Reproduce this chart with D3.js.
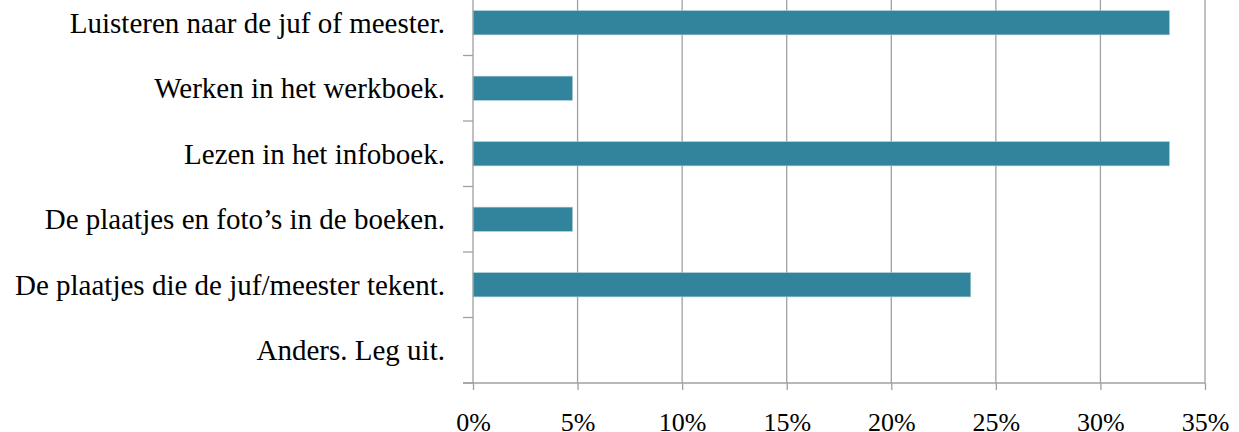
<!DOCTYPE html>
<html>
<head>
<meta charset="utf-8">
<script src="https://cdn.jsdelivr.net/npm/d3@7"></script>
<style>
  body { margin: 0; background: #fff; }
  text { font-family: "Liberation Serif", "Times New Roman", serif; fill: #000; }
</style>
</head>
<body>
<svg width="1239" height="432"></svg>
<script>
var categories = [
  "Luisteren naar de juf of meester.",
  "Werken in het werkboek.",
  "Lezen in het infoboek.",
  "De plaatjes en foto\u2019s in de boeken.",
  "De plaatjes die de juf/meester tekent.",
  "Anders. Leg uit."
];
var values = [0.333, 0.0476, 0.333, 0.0476, 0.238, 0];
var xTicks = [0, 0.05, 0.10, 0.15, 0.20, 0.25, 0.30, 0.35];

var svg = d3.select("svg"),
    plotLeft = 473, plotRight = 1205, plotTop = -10, plotBottom = 383;

var data = categories.map(function(c, i) { return {cat: c, value: values[i]}; });

var x = d3.scaleLinear().domain([0, 0.35]).range([plotLeft, plotRight]);
var y = d3.scaleBand().domain(categories).range([plotTop, plotBottom])
    .paddingInner(0.63).paddingOuter(0.315);
var step = y.step();

// gridlines
svg.append("g").selectAll("line")
  .data(xTicks.slice(1))
  .enter().append("line")
    .attr("x1", function(d) { return x(d); })
    .attr("x2", function(d) { return x(d); })
    .attr("y1", plotTop)
    .attr("y2", plotBottom)
    .attr("stroke", "#a0a0a0")
    .attr("stroke-width", 1.3);

// bars
svg.append("g").selectAll("rect")
  .data(data)
  .enter().append("rect")
    .attr("x", x(0))
    .attr("y", function(d) { return y(d.cat); })
    .attr("width", function(d) { return x(d.value) - x(0); })
    .attr("height", y.bandwidth())
    .attr("fill", "#31849b")
    .attr("stroke", "#a9cdd7")
    .attr("stroke-width", 0.6);

// x axis
var xAxis = svg.append("g")
    .attr("transform", "translate(0," + plotBottom + ")")
    .call(d3.axisBottom(x).tickValues(xTicks).tickSizeInner(7).tickSizeOuter(0)
      .tickFormat(d3.format(".0%")));
xAxis.select(".domain").attr("stroke", "#a0a0a0").attr("stroke-width", 1.3)
  .attr("d", "M" + (plotLeft - 10) + ",0H" + plotRight);
xAxis.selectAll(".tick line").attr("stroke", "#a0a0a0").attr("stroke-width", 1.3);
xAxis.selectAll(".tick text")
    .attr("y", 48).attr("dy", 0)
    .style("font-family", "Liberation Serif").style("font-size", "26px").attr("fill", "#000");

// y axis
svg.append("line")
    .attr("x1", plotLeft).attr("x2", plotLeft)
    .attr("y1", plotTop).attr("y2", plotBottom)
    .attr("stroke", "#a0a0a0").attr("stroke-width", 1.3);

// category boundary ticks
svg.append("g").selectAll("line")
  .data(categories)
  .enter().append("line")
    .attr("x1", plotLeft - 10)
    .attr("x2", plotLeft)
    .attr("y1", function(d) { return y(d) + y.bandwidth() / 2 + step / 2; })
    .attr("y2", function(d) { return y(d) + y.bandwidth() / 2 + step / 2; })
    .attr("stroke", "#a0a0a0").attr("stroke-width", 1.3);

svg.append("g").selectAll("text")
  .data(categories)
  .enter().append("text")
    .attr("x", 445)
    .attr("y", function(d) { return y(d) + y.bandwidth() / 2; })
    .attr("dy", "0.35em")
    .attr("text-anchor", "end")
    .style("font-size", "29px")
    .text(function(d) { return d; });
</script>
</body>
</html>
